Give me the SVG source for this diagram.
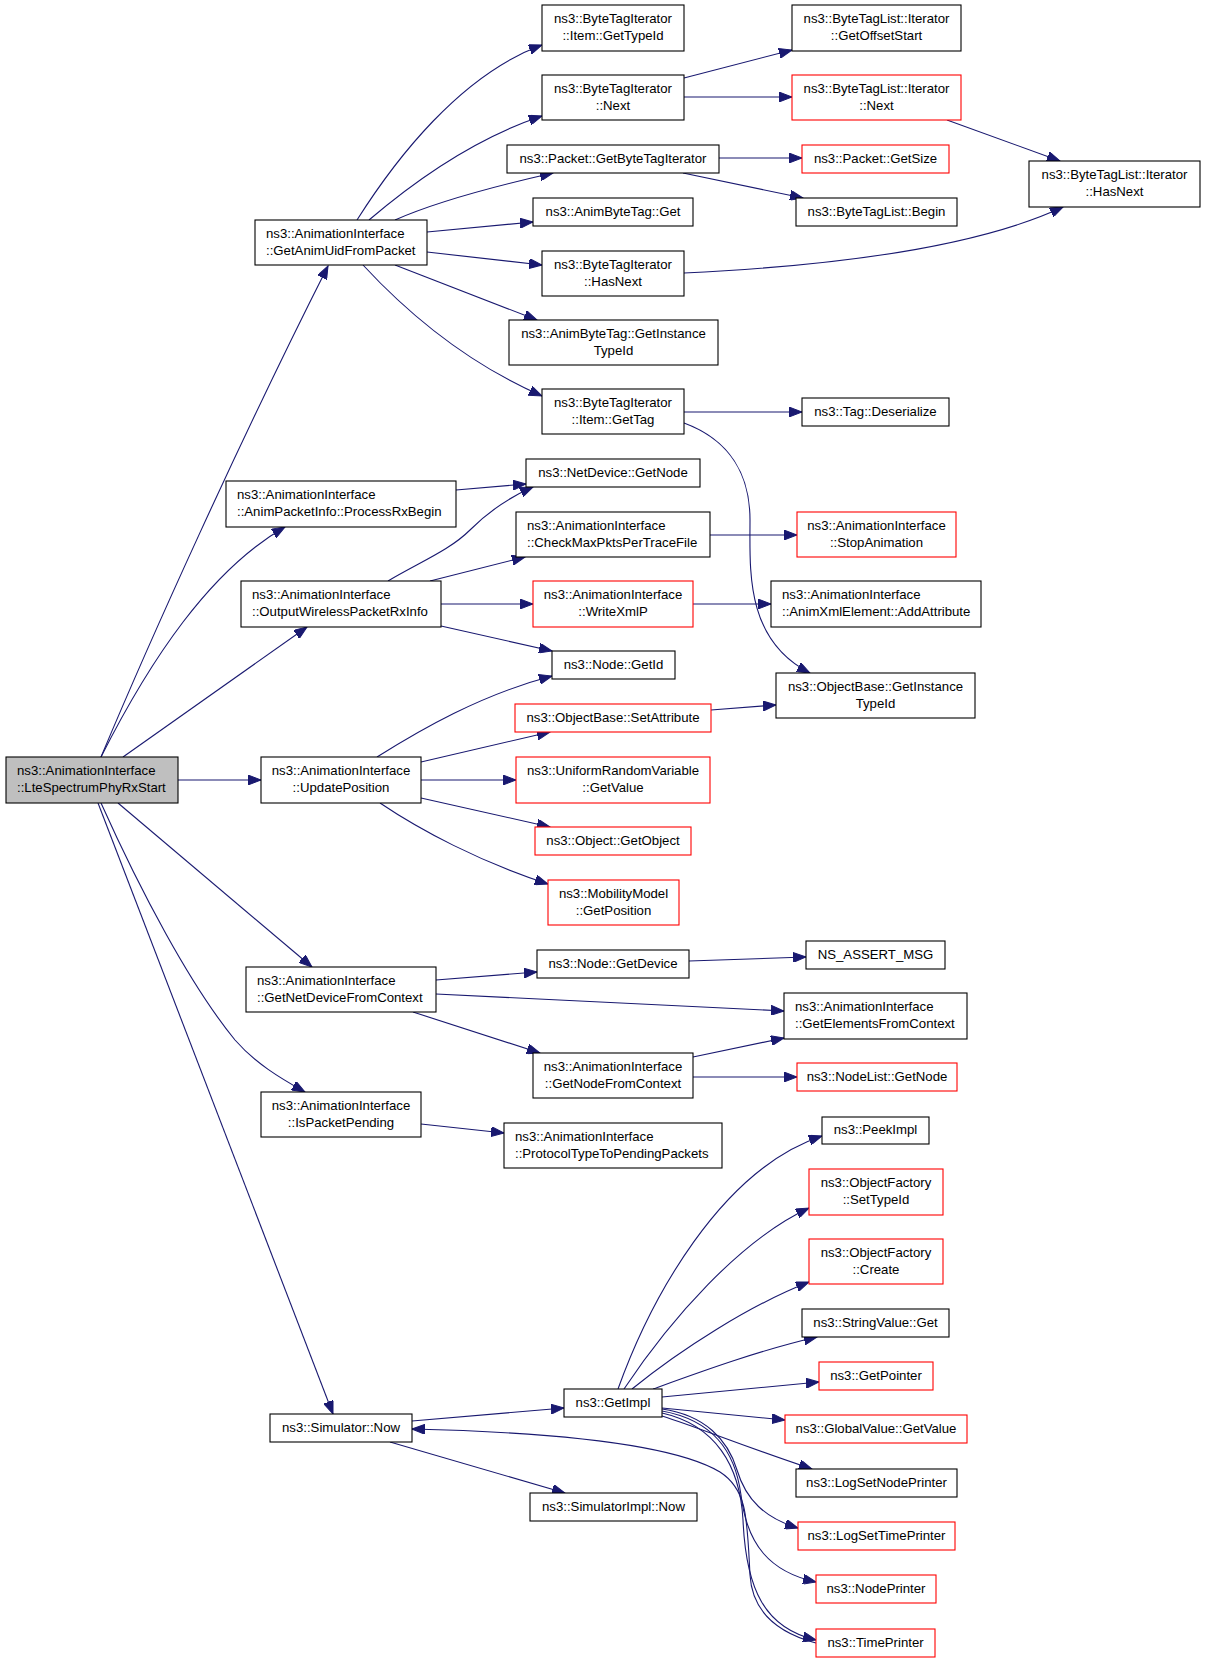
<svg xmlns="http://www.w3.org/2000/svg" width="1205" height="1663" viewBox="0 0 1205 1663">
<defs>
<style>
.n rect{fill:#fff;stroke:#000;stroke-width:1.1}
.r rect{fill:#fff;stroke:#ff0000;stroke-width:1.1}
.g rect{fill:#bfbfbf;stroke:#000;stroke-width:1.1}
text{font-family:"Liberation Sans",Arial,sans-serif;font-size:13.2px;fill:#000}
.c{text-anchor:middle}
.l{text-anchor:start}
#edges path{fill:none;stroke:#191970;stroke-width:1.1;marker-end:url(#a)}
</style>
<marker id="a" markerWidth="14" markerHeight="10" refX="13" refY="5" orient="auto" markerUnits="userSpaceOnUse">
<path d="M0,0 L13,5 L0,10 z" fill="#191970" stroke="#191970" stroke-width="1"/>
</marker>
</defs>
<rect width="1205" height="1663" fill="#fff"/>
<g id="edges">
<path d="M101,757 C150,640 240,440 328,266"/>
<path d="M101,757 C150,660 210,570 285,527"/>
<path d="M123,757 L307,627"/>
<path d="M178,780 L261,780"/>
<path d="M118,803 L312,967"/>
<path d="M101,803 C140,890 190,985 235,1040 C255,1063 280,1078 305,1092"/>
<path d="M98,803 L333,1414"/>
<path d="M357,220 C395,160 460,75 542,45"/>
<path d="M369,220 C410,185 470,140 542,116"/>
<path d="M395,220 C440,200 500,185 553,173"/>
<path d="M427,232 L533,222"/>
<path d="M427,252 L542,265"/>
<path d="M395,265 L537,320"/>
<path d="M363,265 C400,305 460,360 542,396"/>
<path d="M684,78 L792,50"/>
<path d="M684,97 L792,97"/>
<path d="M719,158 L802,158"/>
<path d="M683,173 L803,198"/>
<path d="M947,120 L1060,161"/>
<path d="M684,273 C790,268 960,255 1063,207"/>
<path d="M684,412 L802,412"/>
<path d="M684,423 C730,440 750,475 750,520 C750,570 745,640 810,673"/>
<path d="M456,490 L526,484"/>
<path d="M388,581 C420,562 450,550 470,530 C490,510 510,497 533,487"/>
<path d="M430,581 L525,557"/>
<path d="M441,604 L533,604"/>
<path d="M441,626 L552,651"/>
<path d="M710,535 L797,535"/>
<path d="M693,604 L771,604"/>
<path d="M377,757 C420,730 480,695 552,676"/>
<path d="M421,762 L550,732"/>
<path d="M421,780 L516,780"/>
<path d="M421,798 L550,827"/>
<path d="M380,803 C420,830 480,862 548,884"/>
<path d="M711,710 L776,705"/>
<path d="M436,980 L537,972"/>
<path d="M436,994 L784,1011"/>
<path d="M413,1012 L540,1053"/>
<path d="M689,961 L806,957"/>
<path d="M693,1057 L784,1038"/>
<path d="M693,1077 L797,1077"/>
<path d="M421,1124 L504,1133"/>
<path d="M412,1421 L564,1408"/>
<path d="M390,1442 L565,1493"/>
<path d="M618,1389 C650,1300 720,1170 822,1136"/>
<path d="M624,1389 C670,1320 740,1240 809,1208"/>
<path d="M632,1389 C680,1350 750,1305 809,1282"/>
<path d="M653,1389 C700,1372 760,1350 817,1337"/>
<path d="M662,1397 L819,1382"/>
<path d="M662,1408 L785,1420"/>
<path d="M662,1416 C700,1428 740,1445 812,1469"/>
<path d="M662,1409 C705,1415 728,1440 737,1470 C746,1500 765,1518 798,1528"/>
<path d="M662,1411 C712,1420 735,1450 741,1495 C747,1545 770,1572 816,1582"/>
<path d="M662,1413 C715,1425 740,1465 743,1520 C746,1590 765,1628 816,1640"/>
<path d="M816,1643 C775,1632 752,1610 750,1575 C747,1520 748,1490 720,1472 C670,1442 540,1432 412,1429"/>
</g>
<g id="n0" class="g"><rect x="6" y="757" width="172" height="46"/><text class="l" x="17" y="774.5">ns3::AnimationInterface</text><text class="l" x="17" y="791.5">::LteSpectrumPhyRxStart</text></g>
<g id="n1" class="n"><rect x="255" y="220" width="172" height="45"/><text class="l" x="266" y="237.5">ns3::AnimationInterface</text><text class="l" x="266" y="254.5">::GetAnimUidFromPacket</text></g>
<g id="n2" class="n"><rect x="226" y="481" width="230" height="46"/><text class="l" x="237" y="498.5">ns3::AnimationInterface</text><text class="l" x="237" y="515.5">::AnimPacketInfo::ProcessRxBegin</text></g>
<g id="n3" class="n"><rect x="241" y="581" width="200" height="46"/><text class="l" x="252" y="598.5">ns3::AnimationInterface</text><text class="l" x="252" y="615.5">::OutputWirelessPacketRxInfo</text></g>
<g id="n4" class="n"><rect x="261" y="757" width="160" height="46"/><text class="c" x="341" y="774.5">ns3::AnimationInterface</text><text class="c" x="341" y="791.5">::UpdatePosition</text></g>
<g id="n5" class="n"><rect x="246" y="967" width="190" height="45"/><text class="l" x="257" y="984.5">ns3::AnimationInterface</text><text class="l" x="257" y="1001.5">::GetNetDeviceFromContext</text></g>
<g id="n6" class="n"><rect x="261" y="1092" width="160" height="45"/><text class="c" x="341" y="1109.5">ns3::AnimationInterface</text><text class="c" x="341" y="1126.5">::IsPacketPending</text></g>
<g id="n7" class="n"><rect x="270" y="1414" width="142" height="28"/><text class="c" x="341" y="1431.5">ns3::Simulator::Now</text></g>
<g id="n8" class="n"><rect x="542" y="5" width="142" height="46"/><text class="c" x="613" y="22.5">ns3::ByteTagIterator</text><text class="c" x="613" y="39.5">::Item::GetTypeId</text></g>
<g id="n9" class="n"><rect x="542" y="75" width="142" height="45"/><text class="c" x="613" y="92.5">ns3::ByteTagIterator</text><text class="c" x="613" y="109.5">::Next</text></g>
<g id="n10" class="n"><rect x="507" y="145" width="212" height="28"/><text class="c" x="613" y="162.5">ns3::Packet::GetByteTagIterator</text></g>
<g id="n11" class="n"><rect x="533" y="198" width="160" height="28"/><text class="c" x="613" y="215.5">ns3::AnimByteTag::Get</text></g>
<g id="n12" class="n"><rect x="542" y="251" width="142" height="45"/><text class="c" x="613" y="268.5">ns3::ByteTagIterator</text><text class="c" x="613" y="285.5">::HasNext</text></g>
<g id="n13" class="n"><rect x="509" y="320" width="209" height="45"/><text class="c" x="613.5" y="337.5">ns3::AnimByteTag::GetInstance</text><text class="c" x="613.5" y="354.5">TypeId</text></g>
<g id="n14" class="n"><rect x="542" y="389" width="142" height="45"/><text class="c" x="613" y="406.5">ns3::ByteTagIterator</text><text class="c" x="613" y="423.5">::Item::GetTag</text></g>
<g id="n15" class="n"><rect x="526" y="459" width="174" height="28"/><text class="c" x="613" y="476.5">ns3::NetDevice::GetNode</text></g>
<g id="n16" class="n"><rect x="516" y="512" width="194" height="45"/><text class="l" x="527" y="529.5">ns3::AnimationInterface</text><text class="l" x="527" y="546.5">::CheckMaxPktsPerTraceFile</text></g>
<g id="n17" class="r"><rect x="533" y="581" width="160" height="46"/><text class="c" x="613" y="598.5">ns3::AnimationInterface</text><text class="c" x="613" y="615.5">::WriteXmlP</text></g>
<g id="n18" class="n"><rect x="552" y="651" width="123" height="28"/><text class="c" x="613.5" y="668.5">ns3::Node::GetId</text></g>
<g id="n19" class="r"><rect x="515" y="704" width="196" height="28"/><text class="c" x="613" y="721.5">ns3::ObjectBase::SetAttribute</text></g>
<g id="n20" class="r"><rect x="516" y="757" width="194" height="46"/><text class="c" x="613" y="774.5">ns3::UniformRandomVariable</text><text class="c" x="613" y="791.5">::GetValue</text></g>
<g id="n21" class="r"><rect x="535" y="827" width="156" height="28"/><text class="c" x="613" y="844.5">ns3::Object::GetObject</text></g>
<g id="n22" class="r"><rect x="548" y="880" width="131" height="45"/><text class="c" x="613.5" y="897.5">ns3::MobilityModel</text><text class="c" x="613.5" y="914.5">::GetPosition</text></g>
<g id="n23" class="n"><rect x="537" y="950" width="152" height="28"/><text class="c" x="613" y="967.5">ns3::Node::GetDevice</text></g>
<g id="n24" class="n"><rect x="533" y="1053" width="160" height="45"/><text class="c" x="613" y="1070.5">ns3::AnimationInterface</text><text class="c" x="613" y="1087.5">::GetNodeFromContext</text></g>
<g id="n25" class="n"><rect x="504" y="1123" width="218" height="45"/><text class="l" x="515" y="1140.5">ns3::AnimationInterface</text><text class="l" x="515" y="1157.5">::ProtocolTypeToPendingPackets</text></g>
<g id="n26" class="n"><rect x="564" y="1389" width="98" height="28"/><text class="c" x="613" y="1406.5">ns3::GetImpl</text></g>
<g id="n27" class="n"><rect x="530" y="1493" width="167" height="28"/><text class="c" x="613.5" y="1510.5">ns3::SimulatorImpl::Now</text></g>
<g id="n28" class="n"><rect x="792" y="5" width="169" height="46"/><text class="c" x="876.5" y="22.5">ns3::ByteTagList::Iterator</text><text class="c" x="876.5" y="39.5">::GetOffsetStart</text></g>
<g id="n29" class="r"><rect x="792" y="75" width="169" height="45"/><text class="c" x="876.5" y="92.5">ns3::ByteTagList::Iterator</text><text class="c" x="876.5" y="109.5">::Next</text></g>
<g id="n30" class="r"><rect x="802" y="145" width="147" height="28"/><text class="c" x="875.5" y="162.5">ns3::Packet::GetSize</text></g>
<g id="n31" class="n"><rect x="796" y="198" width="161" height="28"/><text class="c" x="876.5" y="215.5">ns3::ByteTagList::Begin</text></g>
<g id="n32" class="n"><rect x="1029" y="161" width="171" height="46"/><text class="c" x="1114.5" y="178.5">ns3::ByteTagList::Iterator</text><text class="c" x="1114.5" y="195.5">::HasNext</text></g>
<g id="n33" class="n"><rect x="802" y="398" width="147" height="28"/><text class="c" x="875.5" y="415.5">ns3::Tag::Deserialize</text></g>
<g id="n34" class="r"><rect x="797" y="512" width="159" height="45"/><text class="c" x="876.5" y="529.5">ns3::AnimationInterface</text><text class="c" x="876.5" y="546.5">::StopAnimation</text></g>
<g id="n35" class="n"><rect x="771" y="581" width="210" height="46"/><text class="l" x="782" y="598.5">ns3::AnimationInterface</text><text class="l" x="782" y="615.5">::AnimXmlElement::AddAttribute</text></g>
<g id="n36" class="n"><rect x="776" y="673" width="199" height="45"/><text class="c" x="875.5" y="690.5">ns3::ObjectBase::GetInstance</text><text class="c" x="875.5" y="707.5">TypeId</text></g>
<g id="n37" class="n"><rect x="806" y="941" width="139" height="28"/><text class="c" x="875.5" y="958.5">NS_ASSERT_MSG</text></g>
<g id="n38" class="n"><rect x="784" y="993" width="183" height="46"/><text class="l" x="795" y="1010.5">ns3::AnimationInterface</text><text class="l" x="795" y="1027.5">::GetElementsFromContext</text></g>
<g id="n39" class="r"><rect x="797" y="1063" width="160" height="28"/><text class="c" x="877" y="1080.5">ns3::NodeList::GetNode</text></g>
<g id="n40" class="n"><rect x="822" y="1117" width="107" height="27"/><text class="c" x="875.5" y="1134">ns3::PeekImpl</text></g>
<g id="n41" class="r"><rect x="809" y="1169" width="134" height="46"/><text class="c" x="876" y="1186.5">ns3::ObjectFactory</text><text class="c" x="876" y="1203.5">::SetTypeId</text></g>
<g id="n42" class="r"><rect x="809" y="1239" width="134" height="45"/><text class="c" x="876" y="1256.5">ns3::ObjectFactory</text><text class="c" x="876" y="1273.5">::Create</text></g>
<g id="n43" class="n"><rect x="802" y="1309" width="147" height="28"/><text class="c" x="875.5" y="1326.5">ns3::StringValue::Get</text></g>
<g id="n44" class="r"><rect x="819" y="1362" width="114" height="28"/><text class="c" x="876" y="1379.5">ns3::GetPointer</text></g>
<g id="n45" class="r"><rect x="785" y="1415" width="182" height="28"/><text class="c" x="876" y="1432.5">ns3::GlobalValue::GetValue</text></g>
<g id="n46" class="n"><rect x="796" y="1469" width="161" height="28"/><text class="c" x="876.5" y="1486.5">ns3::LogSetNodePrinter</text></g>
<g id="n47" class="r"><rect x="798" y="1522" width="157" height="28"/><text class="c" x="876.5" y="1539.5">ns3::LogSetTimePrinter</text></g>
<g id="n48" class="r"><rect x="816" y="1575" width="120" height="28"/><text class="c" x="876" y="1592.5">ns3::NodePrinter</text></g>
<g id="n49" class="r"><rect x="816" y="1629" width="119" height="28"/><text class="c" x="875.5" y="1646.5">ns3::TimePrinter</text></g>
</svg>
